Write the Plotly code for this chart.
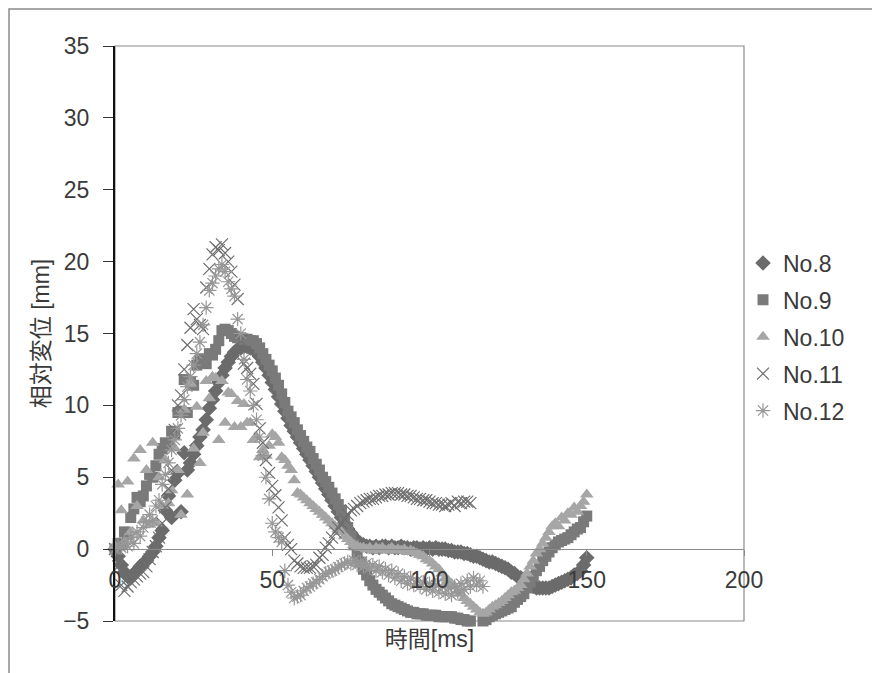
import plotly.graph_objects as go

# ---- data ----
series_names = ["No.8", "No.9", "No.10", "No.11", "No.12"]

t_no8 = list(range(0, 151))
v_no8 = [0.0, -0.5, -1.1, -1.6, -1.9, -2.0, -1.7, -1.5, -1.2, -1.0,
         -0.8, -0.5, -0.2, 0.2, 0.8, 1.3, 2.7, 3.7, 2.2, 4.8,
         5.3, 2.6, 6.7, 5.5, 6.0, 6.6, 7.2, 7.8, 8.3, 9.0,
         9.8, 10.4, 11.0, 11.6, 12.1, 12.6, 13.0, 13.4, 13.7, 13.9,
         14.0, 14.1, 14.1, 14.0, 13.9, 13.7, 13.4, 13.0, 12.6, 12.1,
         11.6, 11.1, 10.6, 10.1, 9.6, 9.1, 8.6, 8.2, 7.8, 7.4,
         7.0, 6.6, 6.2, 5.8, 5.4, 5.0, 4.6, 4.2, 3.8, 3.4,
         3.0, 2.6, 2.2, 1.8, 1.4, 1.1, 0.8, 0.6, 0.4, 0.3,
         0.2, 0.2, 0.1, 0.2, 0.1, 0.2, 0.2, 0.1, 0.2, 0.1,
         0.1, 0.2, 0.1, 0.1, 0.0, 0.1, 0.1, 0.0, 0.1, 0.0,
         0.1, 0.0, 0.1, 0.0, 0.0, 0.0, -0.1, -0.1, -0.2, -0.2,
         -0.2, -0.3, -0.3, -0.4, -0.5, -0.5, -0.6, -0.7, -0.8, -0.9,
         -0.9, -1.0, -1.1, -1.2, -1.3, -1.4, -1.6, -1.7, -1.9, -2.0,
         -2.1, -2.3, -2.5, -2.6, -2.7, -2.7, -2.7, -2.7, -2.7, -2.6,
         -2.5, -2.4, -2.3, -2.2, -2.1, -2.0, -1.8, -1.7, -1.5, -1.1, -0.6]

t_no9 = list(range(0, 151))
v_no9 = [0.0, 0.4, 0.3, 1.2, 1.0, 2.2, 2.8, 3.6, 3.3, 3.7,
         4.4, 5.2, 5.0, 5.8, 6.6, 7.0, 7.4, 7.2, 8.2, 8.0,
         9.5, 9.6, 11.8, 9.5, 11.6, 11.4, 12.8, 13.1, 13.2, 12.9,
         13.6, 13.5, 13.9, 14.5, 15.2, 15.3, 15.2, 15.0, 14.8, 14.7,
         14.7, 14.6, 14.6, 14.5, 14.5, 14.3, 14.0, 13.6, 13.2, 12.8,
         12.4, 11.9, 11.4, 10.8, 10.2, 9.6, 9.2, 8.8, 8.3, 7.9,
         7.5, 7.1, 6.8, 6.3, 5.9, 5.5, 5.0, 4.7, 4.3, 3.9,
         3.5, 3.1, 2.7, 2.1, 1.5, 0.9, 0.3, -0.3, -0.9, -1.4,
         -1.8, -2.2, -2.5, -2.8, -3.0, -3.2, -3.4, -3.6, -3.8, -3.9,
         -4.0, -4.1, -4.2, -4.3, -4.4, -4.4, -4.5, -4.5, -4.5, -4.6,
         -4.6, -4.6, -4.6, -4.7, -4.7, -4.7, -4.7, -4.7, -4.8, -4.8,
         -4.9, -4.9, -5.0, -5.0, -5.1, -5.1, -5.1, -5.0, -4.9, -4.7,
         -4.6, -4.5, -4.4, -4.3, -4.2, -4.1, -4.0, -3.7, -3.5, -3.3,
         -3.1, -2.7, -2.3, -1.9, -1.5, -1.2, -0.8, -0.5, -0.2, 0.1,
         0.3, 0.5, 0.6, 0.7, 0.8, 1.0, 1.2, 1.4, 1.5, 1.9, 2.3]

t_no10 = list(range(0, 151))
v_no10 = [0.2, 4.5, 2.7, 0.5, 4.7, 1.2, 6.3, 3.0, 6.9, 2.0,
          5.5, 1.7, 7.4, 1.8, 5.0, 3.0, 6.2, 3.2, 4.1, 7.0,
          5.5, 2.4, 9.7, 3.8, 11.5, 7.0, 9.9, 6.0, 8.1, 11.7,
          10.5, 12.0, 11.9, 7.6, 11.7, 8.8, 10.9, 10.8, 8.5, 10.3,
          8.5, 10.1, 8.8, 8.8, 7.6, 7.8, 6.4, 6.9, 6.5, 7.2,
          8.0, 7.8, 7.4, 6.4, 6.2, 5.8, 5.5, 4.8, 3.9, 3.8,
          3.6, 3.4, 3.2, 3.0, 2.8, 2.6, 2.4, 2.2, 2.0, 1.8,
          1.6, 1.4, 1.2, 0.9, 0.7, 0.5, 0.3, 0.2, 0.1, 0.1,
          0.0, 0.1, -0.1, 0.1, 0.0, 0.1, -0.1, 0.0, 0.1, -0.1,
          0.0, -0.1, 0.0, -0.2, -0.1, -0.2, -0.3, -0.4, -0.5, -0.7,
          -0.8, -1.0, -1.2, -1.4, -1.7, -2.0, -2.2, -2.4, -2.6, -2.9,
          -3.1, -3.4, -3.6, -3.8, -4.0, -4.2, -4.4, -4.5, -4.4, -4.2,
          -4.0, -3.9, -3.75, -3.6, -3.4, -3.2, -3.0, -2.9, -2.7, -2.5,
          -2.1, -1.7, -1.2, -0.8, -0.3, 0.0, 0.4, 0.8, 1.2, 1.6,
          1.8, 1.6, 2.2, 2.0, 2.5, 2.4, 2.9, 2.6, 3.0, 3.3, 3.8]

t_no11 = list(range(0, 114))
v_no11 = [0.0, -1.2, -2.5, -2.9, -2.6, -2.3, -2.1, -1.9, -1.7, -1.6,
          -1.2, -0.7, -0.2, 0.2, 0.8, 1.8, 2.9, 4.2, 5.5, 8.3,
          10.0, 10.7, 12.5, 14.2, 15.4, 16.7, 16.0, 15.6, 15.3, 18.2,
          19.5, 20.5, 21.0, 20.8, 21.2, 20.6, 20.0, 19.3, 18.4, 17.4,
          14.5, 12.9, 12.6, 12.2, 11.5, 10.1, 8.4, 7.4, 6.2, 5.3,
          4.4, 3.75, 2.9, 2.0, 0.8, 0.3, 0.0, -0.8, -1.0, -1.2,
          -1.3, -1.3, -1.3, -1.2, -1.1, -0.6, -0.4, 0.1, 0.4, 0.8,
          1.2, 1.5, 1.8, 2.1, 2.4, 2.7, 2.8, 3.0, 3.2, 3.3,
          3.4, 3.5, 3.5, 3.6, 3.7, 3.7, 3.8, 3.8, 3.9, 3.9,
          3.9, 3.8, 3.8, 3.7, 3.7, 3.6, 3.5, 3.5, 3.4, 3.4,
          3.3, 3.2, 3.2, 3.1, 3.1, 3.0, 3.1, 3.2, 3.0, 3.3,
          3.2, 3.3, 3.3, 3.2]

t_no12 = list(range(0, 118))
v_no12 = [0.0, 0.3, 0.1, 0.5, 0.2, 0.8, 0.4, 1.2, 0.9, 1.5,
          1.9, 2.4, 2.0, 3.0, 3.4, 4.5, 5.2, 6.0, 6.9, 7.6,
          8.4, 9.3, 10.4, 11.3, 12.0, 12.8, 13.6, 14.4, 15.6, 16.8,
          18.0, 18.5, 19.0, 19.5, 19.8, 19.3, 18.6, 18.1, 17.6, 16.0,
          15.0, 13.2, 11.8, 11.0, 10.0, 9.0, 7.8, 6.5, 5.0, 3.5,
          1.8, 1.2, 0.8, 0.5, -1.5, -2.5, -3.0, -3.4, -3.3, -3.2,
          -2.9, -2.7, -2.6, -2.4, -2.3, -2.1, -1.9, -1.7, -1.6, -1.5,
          -1.4, -1.25, -1.1, -1.0, -0.9, -1.0, -0.8, -1.1, -0.9, -1.2,
          -1.0, -1.3, -1.1, -1.5, -1.2, -1.6, -1.4, -1.8, -1.5, -2.0,
          -1.7, -2.2, -1.9, -2.4, -2.0, -2.5, -2.2, -2.6, -2.3, -2.8,
          -2.4, -2.9, -2.5, -3.0, -2.6, -3.1, -2.7, -3.2, -2.6, -3.0,
          -2.4, -2.8, -2.2, -2.6, -2.0, -2.5, -2.2, -2.6]

x_ticks = [0, 50, 100, 150, 200]
y_ticks = [-5, 0, 5, 10, 15, 20, 25, 30, 35]
x_title = "時間[ms]"
y_title = "相対変位 [mm]"

# ---- styles ----
FONT = "Liberation Sans, Arial, Noto Sans CJK JP, sans-serif"
TXT = "#3a3a3a"
FS = 23
styles = [
    dict(symbol="diamond", size=12, color="#6b6b6b", line=dict(width=0)),
    dict(symbol="square", size=11, color="#7a7a7a", line=dict(width=0)),
    dict(symbol="triangle-up", size=12, color="#a6a6a6", line=dict(width=0)),
    dict(symbol="x-thin-open", size=12, color="#6e6e6e", line=dict(width=1.2, color="#6e6e6e")),
    dict(symbol="asterisk-open", size=12, color="#979797", line=dict(width=1.2, color="#979797")),
]
xs = [t_no8, t_no9, t_no10, t_no11, t_no12]
ys = [v_no8, v_no9, v_no10, v_no11, v_no12]

fig = go.Figure()
for name, x, y, st in zip(series_names, xs, ys, styles):
    fig.add_trace(go.Scatter(x=x, y=y, mode="markers", name=name,
                             legendgroup=name, marker=st, cliponaxis=False))

# page body has an 8px margin; figure sized so it fits the 880x673 window
OFF = 8
W, H = 880 - OFF, 673 - OFF
L, T = 115 - OFF, 46 - OFF
PR, PB = 744 - OFF, 621 - OFF
R, B = W - PR, H - PB
pw, ph = PR - L, PB - T

def px(xpix):
    return (xpix - OFF - L) / pw

def py(ypix):
    return (PB - (ypix - OFF)) / ph

fig.update_layout(
    width=W, height=H,
    margin=dict(l=L, r=R, t=T, b=B, pad=0),
    paper_bgcolor="white", plot_bgcolor="white",
    font=dict(family=FONT, size=FS, color=TXT),
    showlegend=True,
    legend=dict(x=px(743), xanchor="left", y=py(337), yanchor="middle",
                font=dict(size=FS, color=TXT), tracegroupgap=4, itemwidth=30,
                bgcolor="rgba(0,0,0,0)", borderwidth=0),
    xaxis=dict(range=[0, 200], tickvals=x_ticks, showgrid=False, zeroline=False,
               anchor="free", position=5 / 40, showline=True, linecolor="#8a8a8a", linewidth=1,
               ticks="outside", ticklen=6, tickcolor="#8a8a8a", ticklabelstandoff=4,
               tickfont=dict(size=FS, color=TXT),
               title=dict(text=x_title, font=dict(size=FS, color=TXT), standoff=39)),
    yaxis=dict(range=[-5, 35], tickvals=y_ticks, showgrid=False, zeroline=False,
               showline=True, linecolor="#111111", linewidth=2,
               ticks="outside", ticklen=10, tickcolor="#333333", ticklabelstandoff=9,
               tickfont=dict(size=FS, color=TXT),
               title=dict(text=y_title, font=dict(size=FS, color=TXT), standoff=7)),
    shapes=[
        dict(type="rect", xref="paper", yref="paper", x0=0, x1=1, y0=0, y1=1,
             line=dict(color="#8a8a8a", width=1.2), layer="below"),
        dict(type="rect", xref="paper", yref="paper",
             x0=px(9), x1=px(900), y0=py(700), y1=py(9),
             line=dict(color="#8a8a8a", width=1.5), layer="below"),
    ],
)

fig.write_html("out.html")
